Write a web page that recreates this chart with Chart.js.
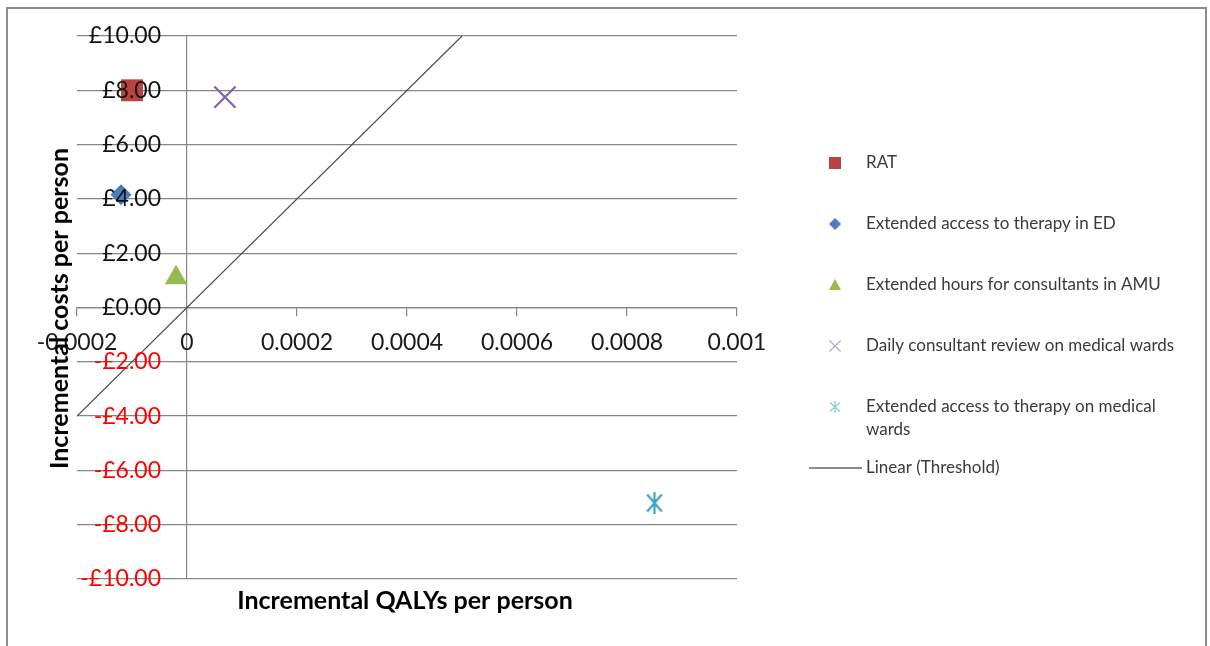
<!DOCTYPE html>
<html>
<head>
<meta charset="utf-8">
<title>Cost-effectiveness plane</title>
<script src="https://cdn.jsdelivr.net/npm/chart.js@4.4.1/dist/chart.umd.min.js"></script>
<style>
  html, body { margin: 0; padding: 0; background: #ffffff; }
  canvas { display: block; }
</style>
</head>
<body>
<canvas id="plane" width="1210" height="646"></canvas>
<script>
// Interventions plotted on the cost-effectiveness plane
const seriesNames = [
  'RAT',
  'Extended access to therapy in ED',
  'Extended hours for consultants in AMU',
  'Daily consultant review on medical wards',
  ['Extended access to therapy on medical', 'wards']
];
// Incremental QALYs per person
const qalyGain = [-0.0001, -0.00012, -0.00002, 0.000069, 0.00085];
// Incremental costs per person (£)
const costDelta = [8.0, 4.15, 1.1, 7.75, -7.2];

// Threshold line (£20,000 per QALY)
const thresholdName = 'Linear (Threshold)';
const thresholdQaly = [-0.0002, 0.0005];
const thresholdCost = [-4, 10];

// Axis ticks
const xTickValues = [-0.0002, 0, 0.0002, 0.0004, 0.0006, 0.0008, 0.001];
const yTickValues = [-10, -8, -6, -4, -2, 0, 2, 4, 6, 8, 10];

const xTitle = 'Incremental QALYs per person';
const yTitle = 'Incremental costs per person';

const markerColors = ['#B9433F', '#4A7EBB', '#98B954', '#8064A2', '#3FA3BF'];
const legendColors = ['#B9433F', '#4A7EBB', '#98B954', '#B4A3CB', '#86CCDE'];

const FONT = 'Lato, "Liberation Sans", sans-serif';
const TICK_SIZE = 23;

const fmtQaly = v => String(Number(v.toFixed(5)));
const fmtCost = v => (v < 0 ? '-' : '') + '£' + Math.abs(v).toFixed(2);

// Six-armed asterisk marker
function asteriskMarker(size, color, width) {
  const c = document.createElement('canvas');
  c.width = size; c.height = size;
  const g = c.getContext('2d');
  const m = size / 2, r = size / 2 - 1;
  const a = Math.PI / 4.6;
  const dx = r * Math.sin(a) * 1.05, dy = r * Math.cos(a);
  g.strokeStyle = color;
  g.lineWidth = width;
  g.beginPath();
  g.moveTo(m, m - r); g.lineTo(m, m + r);
  g.moveTo(m - dx, m - dy); g.lineTo(m + dx, m + dy);
  g.moveTo(m + dx, m - dy); g.lineTo(m - dx, m + dy);
  g.stroke();
  return c;
}

// Widest cost label, so the labels can sit right-aligned beside the zero axis
const measureCtx = document.createElement('canvas').getContext('2d');
measureCtx.font = TICK_SIZE + 'px ' + FONT;
const widestCost = Math.max(...yTickValues.map(v => measureCtx.measureText(fmtCost(v)).width));

const pointDefs = [
  { style: 'rect', radius: 15.5, filled: true },
  { style: 'rectRot', radius: 10.5, filled: true },
  { style: 'triangle', radius: 13, filled: true },
  { style: 'crossRot', radius: 15, filled: false },
  { style: asteriskMarker(24, markerColors[4], 2.2), radius: 12, filled: false }
];

const datasets = seriesNames.map((name, i) => ({
  label: Array.isArray(name) ? name.join(' ') : name,
  data: [{ x: qalyGain[i], y: costDelta[i] }],
  pointStyle: pointDefs[i].style,
  pointRadius: pointDefs[i].radius,
  pointHoverRadius: pointDefs[i].radius,
  backgroundColor: markerColors[i],
  borderColor: markerColors[i],
  pointBorderWidth: pointDefs[i].filled ? 0 : 2.2,
  showLine: false,
  order: 1
}));

datasets.push({
  label: thresholdName,
  data: thresholdQaly.map((q, i) => ({ x: q, y: thresholdCost[i] })),
  showLine: true,
  pointRadius: 0,
  borderColor: '#4a4a4a',
  borderWidth: 1.2,
  backgroundColor: '#4a4a4a',
  order: 2
});

// Frame, axis titles and legend panel
const decorations = {
  id: 'decorations',
  beforeDraw(chart) {
    const ctx = chart.ctx;
    ctx.save();
    ctx.strokeStyle = '#8c8c8c';
    ctx.lineWidth = 2;
    ctx.strokeRect(7, 8, chart.width - 11, chart.height + 20);
    ctx.restore();
  },
  afterDraw(chart) {
    const ctx = chart.ctx;
    const a = chart.chartArea;
    ctx.save();
    ctx.fillStyle = '#000000';
    ctx.font = 'bold 25px ' + FONT;
    ctx.textAlign = 'center';
    ctx.textBaseline = 'middle';
    ctx.fillText(xTitle, (a.left + a.right) / 2 - 2, a.bottom + 22);
    ctx.translate(60, (a.top + a.bottom) / 2 + 1);
    ctx.rotate(-Math.PI / 2);
    ctx.fillText(yTitle, 0, 0);
    ctx.restore();

    // legend
    const mx = 835, tx = 866, y0 = 163, step = 61;
    ctx.save();
    ctx.font = '17px ' + FONT;
    ctx.textAlign = 'left';
    ctx.textBaseline = 'middle';
    seriesNames.forEach((name, i) => {
      const y = y0 + step * i;
      const lines = Array.isArray(name) ? name : [name];
      ctx.fillStyle = '#3a3a3a';
      lines.forEach((ln, k) => ctx.fillText(ln, tx, y + k * 23));
      ctx.fillStyle = legendColors[i];
      ctx.strokeStyle = legendColors[i];
      ctx.beginPath();
      if (i === 0) {
        ctx.fillRect(mx - 6, y - 6, 12, 12);
      } else if (i === 1) {
        ctx.moveTo(mx, y - 6); ctx.lineTo(mx + 6, y); ctx.lineTo(mx, y + 6); ctx.lineTo(mx - 6, y); ctx.closePath(); ctx.fill();
      } else if (i === 2) {
        ctx.moveTo(mx, y - 6); ctx.lineTo(mx + 6, y + 5); ctx.lineTo(mx - 6, y + 5); ctx.closePath(); ctx.fill();
      } else if (i === 3) {
        ctx.lineWidth = 1.2;
        ctx.moveTo(mx - 5.5, y - 5.5); ctx.lineTo(mx + 5.5, y + 5.5);
        ctx.moveTo(mx + 5.5, y - 5.5); ctx.lineTo(mx - 5.5, y + 5.5); ctx.stroke();
      } else {
        ctx.lineWidth = 1.2;
        ctx.moveTo(mx, y - 6); ctx.lineTo(mx, y + 6);
        ctx.moveTo(mx - 5, y - 4.5); ctx.lineTo(mx + 5, y + 4.5);
        ctx.moveTo(mx + 5, y - 4.5); ctx.lineTo(mx - 5, y + 4.5); ctx.stroke();
      }
    });
    const ly = y0 + step * seriesNames.length;
    ctx.strokeStyle = '#1a1a1a';
    ctx.lineWidth = 1.2;
    ctx.beginPath();
    ctx.moveTo(809, ly); ctx.lineTo(862, ly); ctx.stroke();
    ctx.fillStyle = '#3a3a3a';
    ctx.fillText(thresholdName, tx, ly);
    ctx.restore();
  }
};

new Chart(document.getElementById('plane'), {
  type: 'scatter',
  data: { datasets },
  plugins: [decorations],
  options: {
    responsive: false,
    animation: false,
    events: [],
    layout: { padding: { left: 77, right: 473, top: 36, bottom: 67 } },
    plugins: { legend: { display: false }, tooltip: { enabled: false }, title: { display: false } },
    scales: {
      x: {
        type: 'linear',
        position: { y: 0 },
        min: -0.0002,
        max: 0.001,
        afterBuildTicks: s => { s.ticks = xTickValues.map(v => ({ value: v })); },
        ticks: {
          callback: v => fmtQaly(v),
          color: '#1a1a1a',
          font: { family: FONT, size: TICK_SIZE },
          padding: 13,
          maxRotation: 0,
          autoSkip: false
        },
        grid: {
          drawOnChartArea: true,
          drawTicks: true,
          tickLength: 8,
          tickColor: '#868686',
          color: c => (c.tick && c.tick.value === 0 ? '#868686' : 'rgba(0,0,0,0)'),
          lineWidth: 1.2
        },
        border: { display: true, color: '#868686', width: 1.2 }
      },
      y: {
        type: 'linear',
        position: 'left',
        min: -10,
        max: 10,
        afterBuildTicks: s => { s.ticks = yTickValues.map(v => ({ value: v })); },
        afterFit: s => { s.width = 0; },
        ticks: {
          callback: v => fmtCost(v),
          color: c => (c.tick && c.tick.value < 0 ? '#ff0000' : '#111111'),
          font: { family: FONT, size: TICK_SIZE },
          mirror: true,
          crossAlign: 'far',
          padding: 84 - widestCost,
          autoSkip: false,
          z: 1
        },
        grid: {
          drawOnChartArea: true,
          drawTicks: false,
          color: '#868686',
          lineWidth: 1.2
        },
        border: { display: false }
      }
    }
  }
});
</script>
</body>
</html>
